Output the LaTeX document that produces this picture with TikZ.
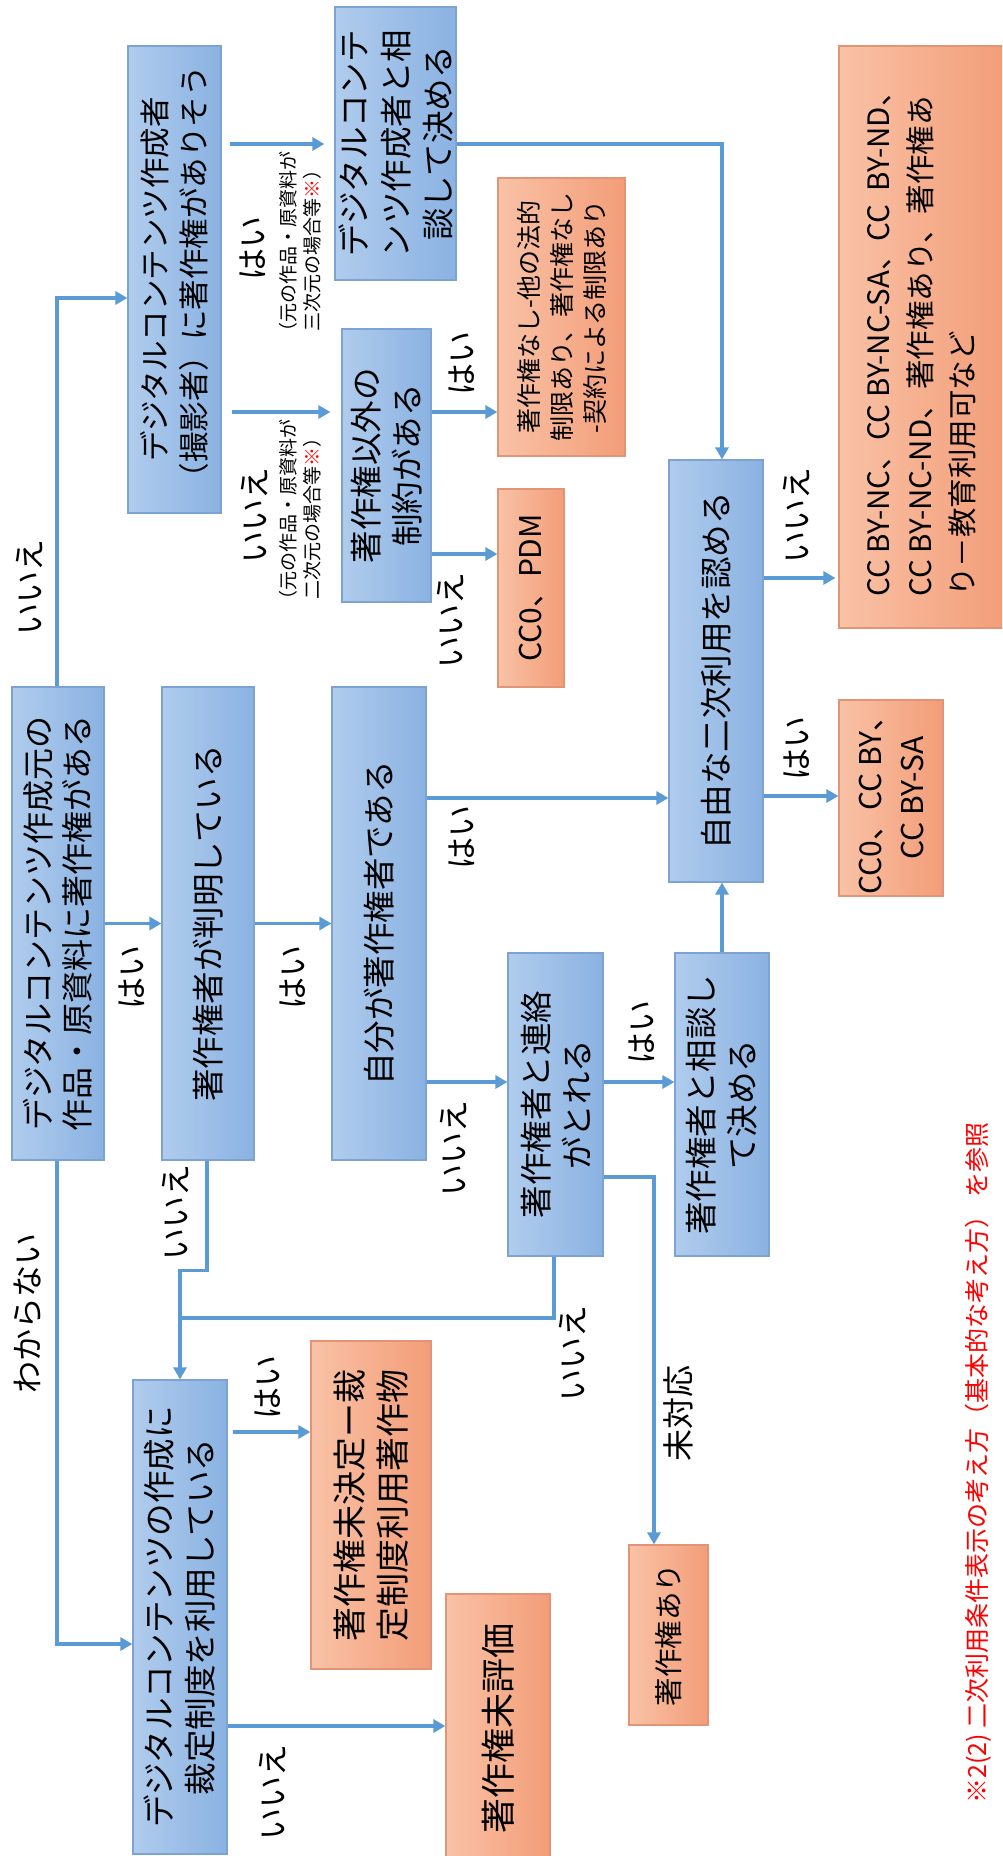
\documentclass[tikz,border=0pt]{standalone}
\usepackage{fontspec}
\setmainfont{Noto Sans CJK JP}
\usetikzlibrary{arrows.meta,calc}
\definecolor{bl}{RGB}{176,204,237}
\definecolor{br}{RGB}{138,178,226}
\definecolor{bb}{RGB}{125,163,210}
\definecolor{ol}{RGB}{249,194,166}
\definecolor{or}{RGB}{243,157,120}
\definecolor{ob}{RGB}{226,148,118}
\definecolor{ac}{RGB}{91,155,213}
\tikzset{
 bbox/.style={draw=bb, line width=1.2pt, left color=bl, right color=br, inner sep=0pt},
 obox/.style={draw=ob, line width=1.2pt, left color=ol, right color=or, inner sep=0pt},
 btxt/.style={rotate=90, inner sep=0pt, align=center, font=\fontsize{32.5}{41}\selectfont},
 arr/.style={draw=ac, line width=3.5pt, -{Triangle[length=12pt,width=13pt]}},
 conn/.style={draw=ac, line width=3.5pt},
 lbl/.style={rotate=90, inner sep=0pt, font=\fontsize{32}{40}\selectfont},
 note/.style={rotate=90, inner sep=0pt, align=center, font=\fontsize{19}{24}\selectfont},
}
\begin{document}
\begin{tikzpicture}[x=1pt,y=-1pt]
\useasboundingbox (0,0) rectangle (1002,1856);
\clip (0,0) rectangle (1002,1856);
\fill[white] (0,0) rectangle (1002,1856);

% blue boxes
\node[bbox, minimum width=92pt, minimum height=473pt] (A1) at (58,923.5) {};
\node[btxt, font=\fontsize{32}{39}\selectfont] (A1t) at (A1.center) {デジタルコンテンツ作成元の\\作品・原資料に著作権がある};
\node[bbox, minimum width=92pt, minimum height=473pt] (B) at (208,923.5) {};
\node[btxt] (Bt) at (B.center) {著作権者が判明している};
\node[bbox, minimum width=94pt, minimum height=473pt] (C) at (379,923.5) {};
\node[btxt] (Ct) at (C.center) {自分が著作権者である};
\node[bbox, minimum width=93pt, minimum height=467pt] (A2) at (174.5,279.5) {};
\node[btxt, font=\fontsize{30.5}{39}\selectfont] (A2t) at (A2.center) {デジタルコンテンツ作成者\\（撮影者）に著作権がありそう};
\node[bbox, minimum width=121pt, minimum height=273pt] (D1) at (395.5,143.5) {};
\node[btxt, font=\fontsize{32.5}{42}\selectfont] (D1t) at (D1.center) {デジタルコンテ\\ンツ作成者と相\\談して決める};
\node[bbox, minimum width=89pt, minimum height=273pt] (C1) at (386.5,465.5) {};
\node[btxt] (C1t) at (C1.center) {著作権以外の\\制約がある};
\node[bbox, minimum width=94pt, minimum height=422pt] (E) at (716,671) {};
\node[btxt] (Et) at (E.center) {自由な二次利用を認める};
\node[bbox, minimum width=95pt, minimum height=303pt] (J) at (555.5,1104.5) {};
\node[btxt] (Jt) at (J.center) {著作権者と連絡\\がとれる};
\node[bbox, minimum width=94pt, minimum height=303pt] (K) at (722,1104.5) {};
\node[btxt] (Kt) at (K.center) {著作権者と相談し\\て決める};
\node[bbox, minimum width=94pt, minimum height=474pt] (L) at (180,1617) {};
\node[btxt] (Lt) at (L.center) {デジタルコンテンツの作成に\\裁定制度を利用している};

% orange boxes
\node[obox, minimum width=127pt, minimum height=278pt] (F) at (561.5,317) {};
\node[btxt, font=\fontsize{25}{33}\selectfont] (Ft) at (F.center) {著作権なし-他の法的\\制限あり、著作権なし\\-契約による制限あり};
\node[obox, minimum width=66pt, minimum height=198pt] (I) at (531,588) {};
\node[btxt, font=\fontsize{30}{40}\selectfont] (It) at (I.center) {CC0、PDM};
\node[obox, minimum width=167pt, minimum height=582pt] (G) at (922.5,337) {};
\node[btxt, align=left, font=\fontsize{29.5}{42}\selectfont] (Gt) at (922,337) {CC BY-NC、CC BY-NC-SA、CC~~BY-ND、\\CC BY-NC-ND、著作権あり、著作権あ\\り－教育利用可など};
\node[obox, minimum width=104pt, minimum height=196pt] (H) at (891,798) {};
\node[btxt, font=\fontsize{30}{42}\selectfont] (Ht) at (H.center) {CC0、CC BY、\\CC BY-SA};
\node[obox, minimum width=79pt, minimum height=180pt] (M) at (668.5,1635) {};
\node[btxt, font=\fontsize{28.5}{36}\selectfont] (Mt) at (M.center) {著作権あり};
\node[obox, minimum width=120pt, minimum height=328pt] (N) at (371,1505) {};
\node[btxt, font=\fontsize{34}{43}\selectfont] (Nt) at (N.center) {著作権未決定ー裁\\定制度利用著作物};
\node[obox, minimum width=104pt, minimum height=268pt] (O) at (498,1728) {};
\node[btxt, font=\fontsize{35}{43}\selectfont] (Ot) at (O.center) {著作権未評価};

% connectors
\draw[arr] (A1.north -| 57,0) |- (A2.west |- 0,298);
\draw[arr] (A1.east) -- (B.west);
\draw[arr] (B.east) -- (C.west);
\draw[arr, shorten <=8pt, shorten >=10pt] (A2.east |- 0,144) -- (D1.west |- 0,144);
\draw[arr, shorten <=10pt, shorten >=11pt] (A2.east |- 0,412) -- (C1.west |- 0,412);
\draw[arr] (D1.east |- 0,144) -| (722,0 |- E.north);
\draw[arr] (C1.east |- 0,412) -- (F.west |- 0,412);
\draw[arr] (C1.east |- 0,554) -- (I.west |- 0,554);
\draw[arr] (C.east |- 0,798) -- (E.west |- 0,798);
\draw[arr] (C.east |- 0,1082) -- (J.west |- 0,1082);
\draw[arr] (J.east |- 0,1082) -- (K.west |- 0,1082);
\draw[arr] (K.north) -- (E.south -| K.north);
\draw[arr, shorten >=3pt] (E.east |- 0,578) -- (G.west |- 0,578);
\draw[arr] (E.east |- 0,796) -- (H.west |- 0,796);
\draw[arr] (B.south -| 207,0) -- ++(0,110) -| (L.north);
\draw[conn] (J.south -| 554,0) |- (L.north |- 0,1318);
\draw[arr] (J.east |- 0,1177) -| (654,0 |- M.north);
\draw[arr] (A1.south -| 57,0) |- (L.west |- 0,1644);
\draw[arr, shorten <=5pt] (L.east |- 0,1432) -- (N.west |- 0,1432);
\draw[arr] (L.east |- 0,1726) -- (O.west |- 0,1726);

% labels
\node[lbl] (l1) at (30,587) {いいえ};
\node[lbl] (l2) at (253,248) {はい};
\node[note] (n1) at (300,246) {（元の作品・原資料が\\三次元の場合等{\color{red}※}）};
\node[lbl] (l3) at (255,515) {いいえ};
\node[note] (n2) at (300,514) {（元の作品・原資料が\\二次元の場合等{\color{red}※}）};
\node[lbl] (l4) at (462,363) {はい};
\node[lbl] (l5) at (451,620) {いいえ};
\node[lbl] (l6) at (132,977) {はい};
\node[lbl] (l7) at (293,977) {はい};
\node[lbl] (l8) at (462,837) {はい};
\node[lbl] (l9) at (454,1148) {いいえ};
\node[lbl] (l10) at (642,1032) {はい};
\node[lbl] (l11) at (797,515) {いいえ};
\node[lbl] (l12) at (797,748) {はい};
\node[lbl] (l13) at (176,1212) {いいえ};
\node[lbl] (l14) at (573,1353) {いいえ};
\node[lbl] (l15) at (678,1413) {未対応};
\node[lbl] (l16) at (28,1313) {わからない};
\node[lbl] (l17) at (268,1387) {はい};
\node[lbl] (l18) at (273,1792) {いいえ};
\node[rotate=90, inner sep=0pt, text=red, font=\fontsize{25}{30}\selectfont] (fn) at (978,1463) {※2(2) 二次利用条件表示の考え方（基本的な考え方） を参照};
\end{tikzpicture}
\end{document}
